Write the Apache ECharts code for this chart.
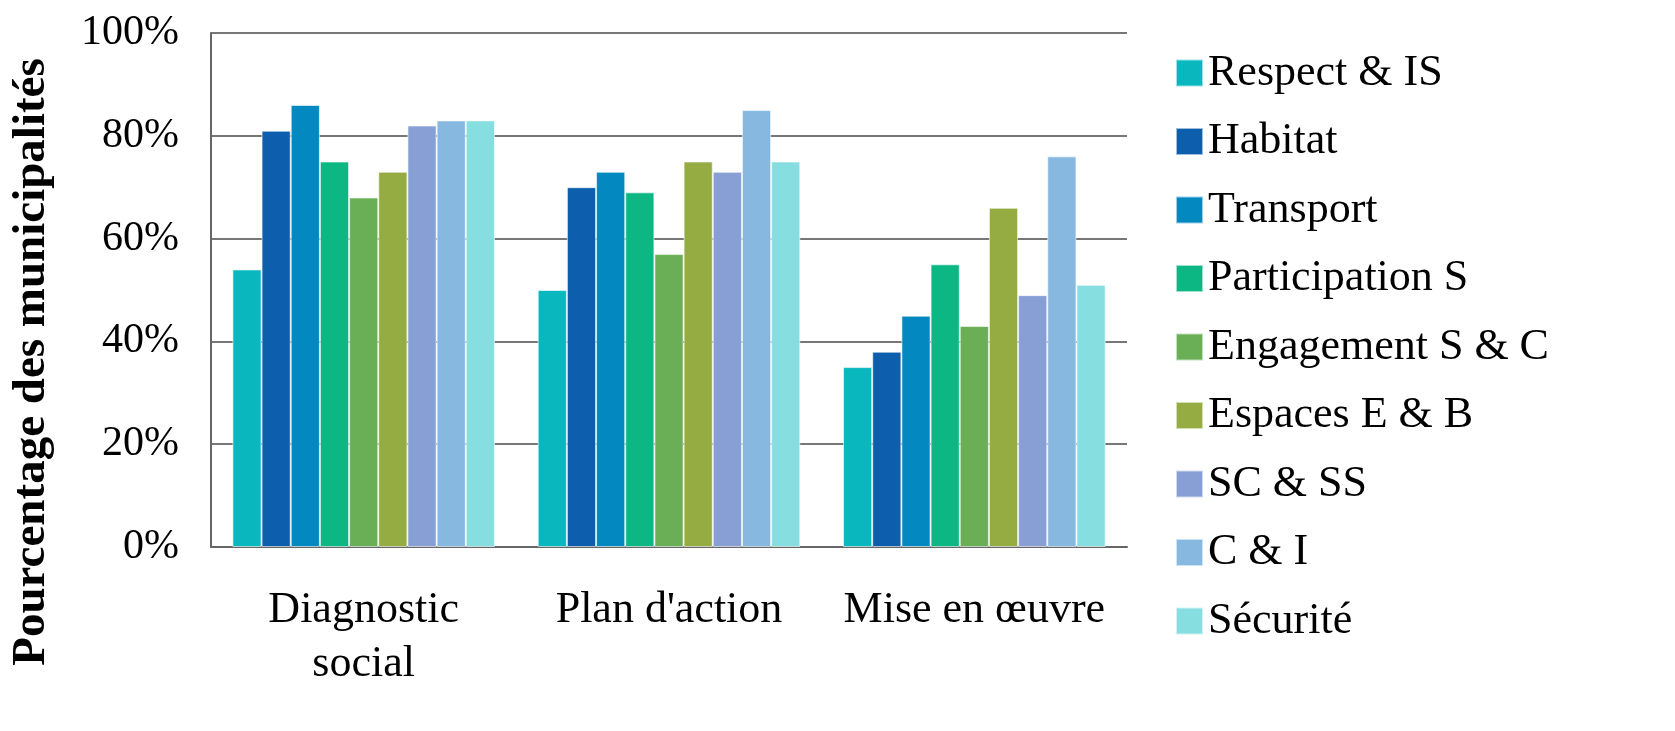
<!DOCTYPE html>
<html>
<head>
<meta charset="utf-8">
<script src="https://cdn.jsdelivr.net/npm/echarts@6/dist/echarts.min.js"></script>
<style>html,body{margin:0;padding:0;background:#fff;}#c{width:1675px;height:731px;}</style>
</head>
<body>
<div id="c"></div>
<script>
const categories = ["Diagnostic social", "Plan d'action", "Mise en œuvre"];
const seriesNames = ["Respect & IS", "Habitat", "Transport", "Participation S", "Engagement S & C", "Espaces E & B", "SC & SS", "C & I", "Sécurité"];
const respect = [54, 50, 35];
const habitat = [81, 70, 38];
const transport = [86, 73, 45];
const participation = [75, 69, 55];
const engagement = [68, 57, 43];
const espaces = [73, 75, 66];
const scss = [82, 73, 49];
const ci = [83, 85, 76];
const securite = [83, 75, 51];
const colors = ["#09B8BF", "#0E5EAE", "#0389BF", "#0DB784", "#6AAF55", "#94AC41", "#879FD5", "#86B8E0", "#87DEE0"];
const yTicks = [0, 20, 40, 60, 80, 100];

const values = [respect, habitat, transport, participation, engagement, espaces, scss, ci, securite];
const FONT = "'Liberation Serif', serif";

const chart = echarts.init(document.getElementById('c'));
chart.setOption({
  animation: false,
  backgroundColor: '#fff',
  grid: { left: 210, top: 33, right: 548, bottom: 184 },
  legend: {
    orient: 'vertical',
    left: 1170,
    top: 46,
    itemWidth: 27,
    itemHeight: 27,
    itemGap: 24.5,
    icon: 'rect',
    textStyle: { fontFamily: FONT, fontSize: 44, color: '#000', lineHeight: 42 },
    data: seriesNames
  },
  xAxis: {
    type: 'category',
    data: categories,
    axisLine: { lineStyle: { color: '#666', width: 2 } },
    axisTick: { show: false },
    axisLabel: {
      fontFamily: FONT, fontSize: 44, color: '#000', margin: 36,
      lineHeight: 54, interval: 0,
      formatter: v => v === categories[0] ? v.replace(' ', '\n') : v
    }
  },
  yAxis: {
    type: 'value',
    min: 0, max: 100, interval: 20,
    name: 'Pourcentage des municipalités',
    nameLocation: 'middle',
    nameGap: 156,
    nameTextStyle: { fontFamily: FONT, fontSize: 47, fontWeight: 'bold', color: '#000', padding: [0, 144, 0, 0] },
    axisLine: { show: true, lineStyle: { color: '#666', width: 2 } },
    axisTick: { show: false },
    axisLabel: {
      fontFamily: FONT, fontSize: 42, color: '#000', margin: 32,
      formatter: v => yTicks.includes(v) ? v + '%' : ''
    },
    splitLine: { lineStyle: { color: '#777', width: 2 } }
  },
  series: seriesNames.map((n, i) => ({
    name: n,
    type: 'bar',
    data: values[i],
    barGap: '0%',
    barCategoryGap: '14%',
    itemStyle: { color: colors[i], borderColor: 'rgba(255,255,255,0.6)', borderWidth: 1 }
  }))
});
</script>
</body>
</html>
